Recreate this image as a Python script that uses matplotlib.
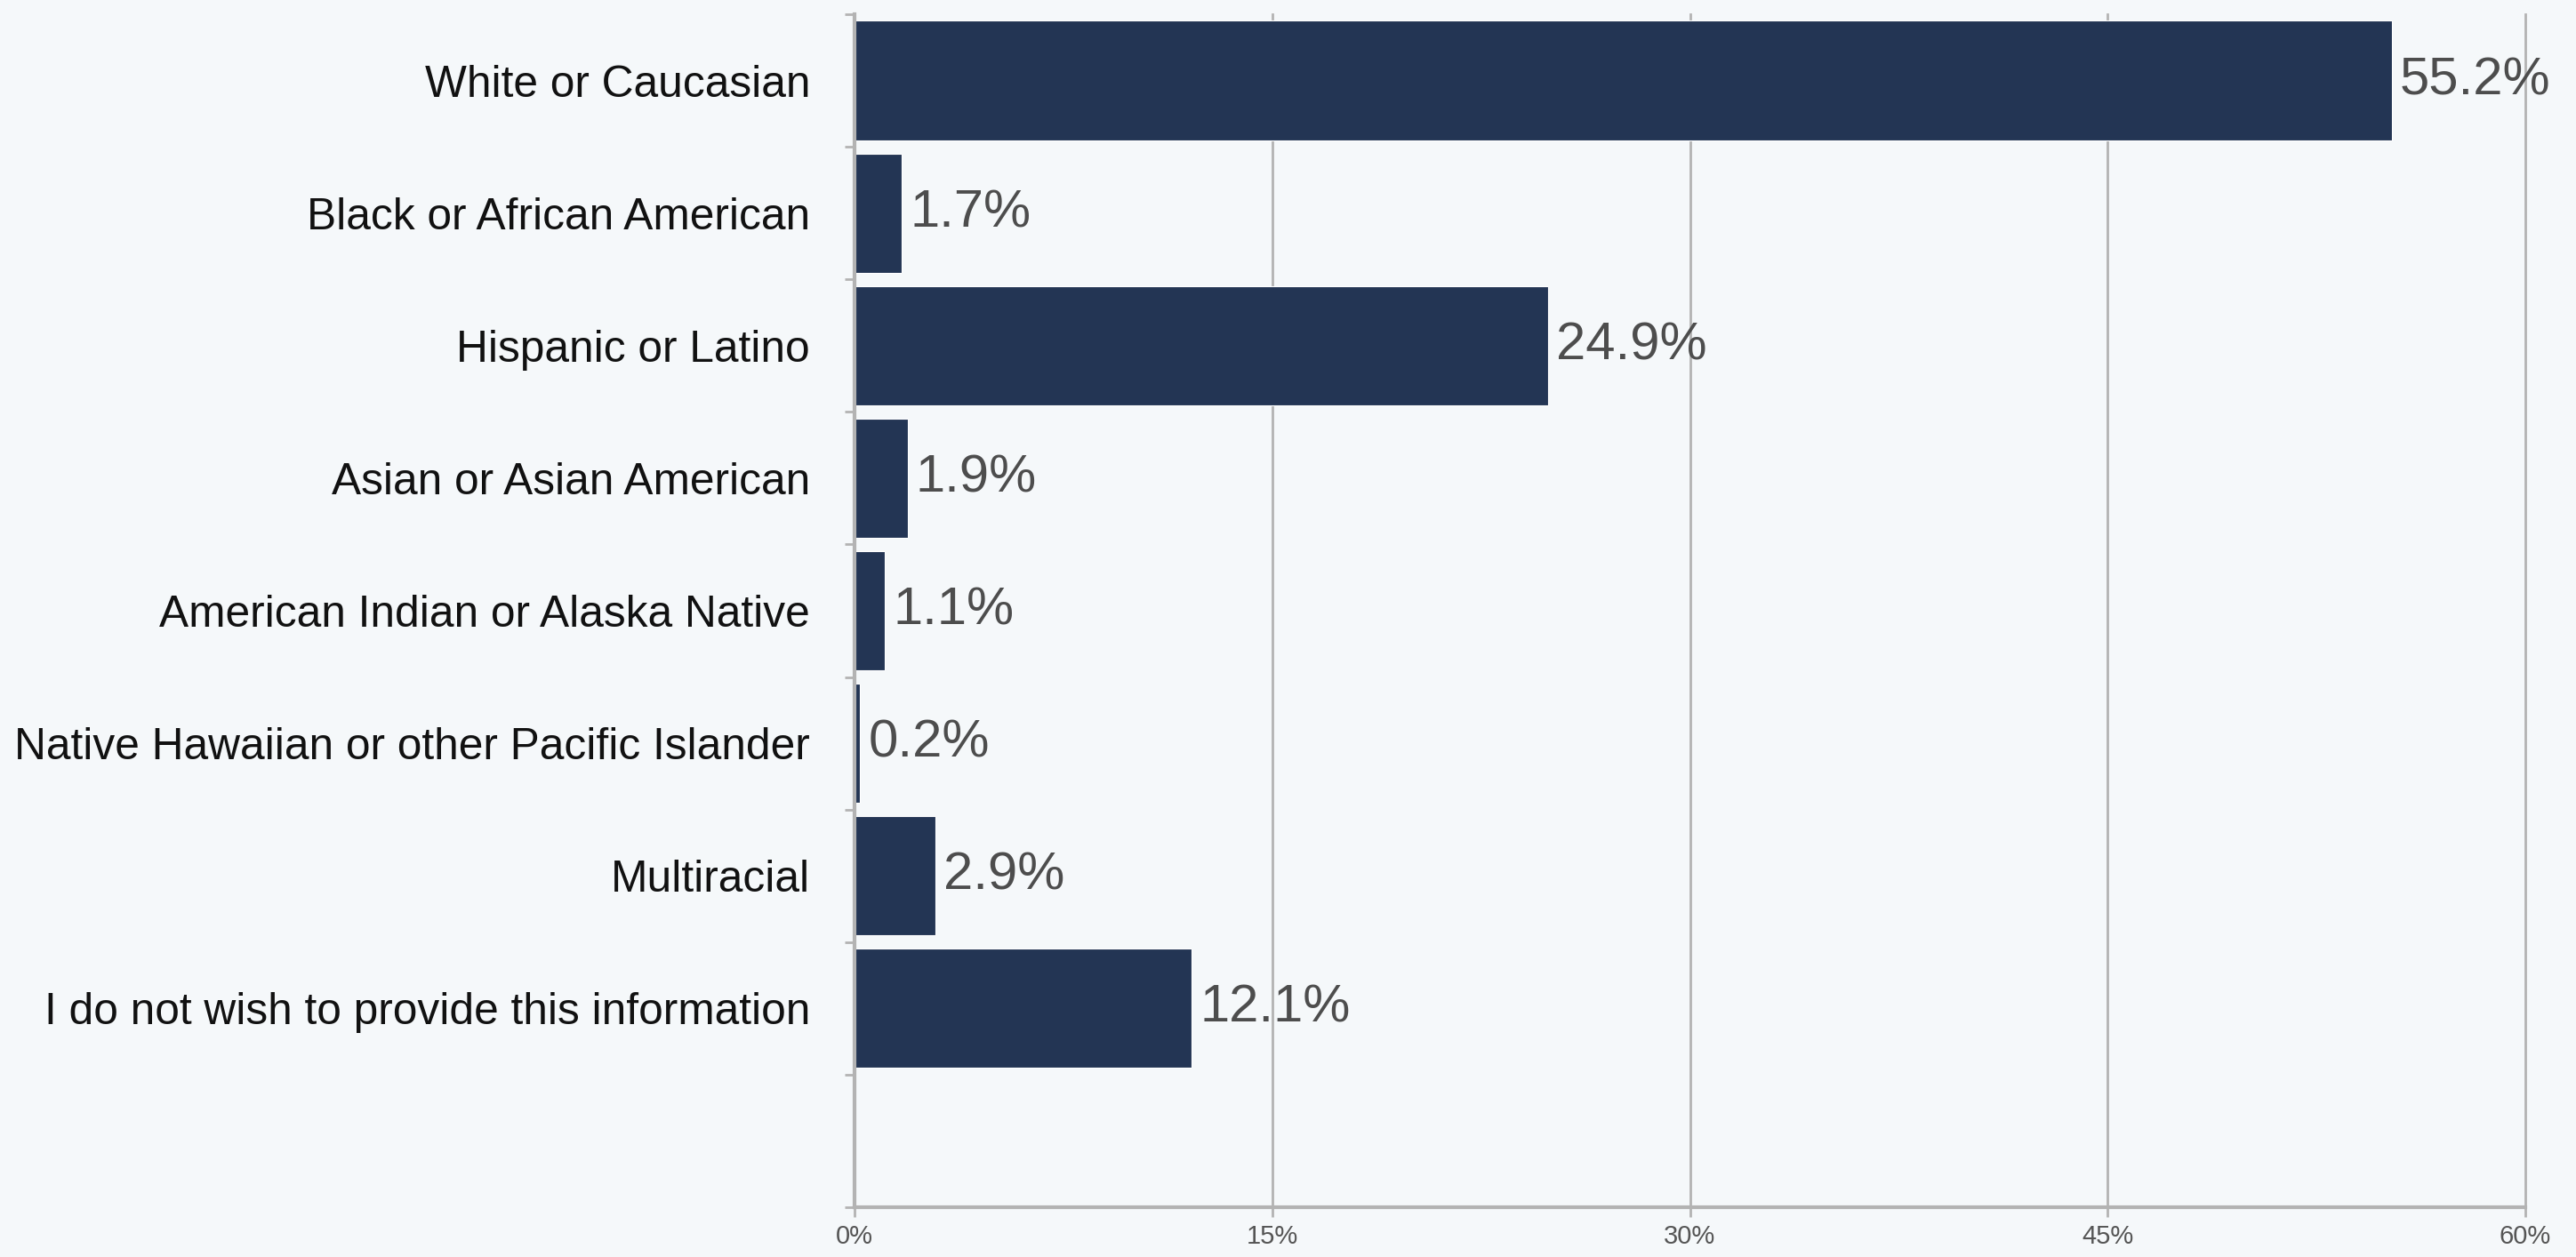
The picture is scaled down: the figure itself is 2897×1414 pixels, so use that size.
import matplotlib
matplotlib.use("Agg")
import matplotlib.pyplot as plt
from matplotlib.ticker import FixedLocator, FuncFormatter

categories = [
    "White or Caucasian",
    "Black or African American",
    "Hispanic or Latino",
    "Asian or Asian American",
    "American Indian or Alaska Native",
    "Native Hawaiian or other Pacific Islander",
    "Multiracial",
    "I do not wish to provide this information",
]
values = [55.2, 1.7, 24.9, 1.9, 1.1, 0.2, 2.9, 12.1]
x_ticks = [0, 15, 30, 45, 60]

BG = "#f5f8fa"
BAR = "#233554"
GRID = "#b3b3b3"
FONT = "Liberation Sans"

fig = plt.figure(figsize=(28.97, 14.14), dpi=100, facecolor=BG)
ax = fig.add_axes([961 / 2897, 1 - 1358 / 1414, (2840 - 961) / 2897, (1358 - 16) / 1414])
ax.set_facecolor(BG)

n_slots = len(categories) + 1
pos = list(range(len(categories)))
ax.barh(pos, values, height=0.9, color=BAR, edgecolor="white", linewidth=0.8, zorder=3)

for p, v in zip(pos, values):
    ax.text(v + 0.3, p, f"{v:.1f}%", va="center", ha="left", fontsize=43,
            color="#4d4d4d", family=FONT, zorder=4)

ax.set_xlim(0, 60)
ax.set_ylim(n_slots - 0.5, -0.5)

ax.xaxis.set_major_locator(FixedLocator(x_ticks))
ax.xaxis.set_major_formatter(FuncFormatter(lambda v, _: f"{v:.0f}%"))
ax.grid(axis="x", color=GRID, linewidth=2, zorder=0)
for gl in ax.get_xgridlines():
    gl.set_clip_on(False)
ax.tick_params(axis="x", length=8, width=2, color=GRID, labelsize=21,
               labelcolor="#555555", pad=6)

ax.yaxis.set_major_locator(FixedLocator([i - 0.5 for i in range(n_slots + 1)]))
ax.yaxis.set_major_formatter(FuncFormatter(lambda v, _: ""))
ax.yaxis.set_minor_locator(FixedLocator(pos))
ax.set_yticklabels(categories, minor=True)
ax.tick_params(axis="y", which="major", length=8, width=2, color=GRID)
ax.tick_params(axis="y", which="minor", length=0, labelsize=35.7, labelcolor="#111111", pad=36)

for lbl in ax.get_xticklabels() + ax.get_yticklabels(minor=True):
    lbl.set_family(FONT)

for side in ("top", "right"):
    ax.spines[side].set_visible(False)
for side in ("left", "bottom"):
    ax.spines[side].set_color(GRID)
    ax.spines[side].set_linewidth(3)
    ax.spines[side].set_zorder(5)

fig.savefig("out.png", dpi=100, facecolor=BG)
